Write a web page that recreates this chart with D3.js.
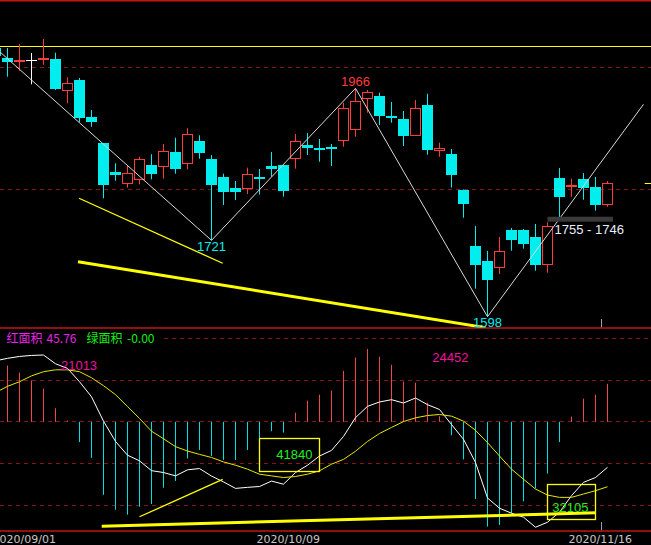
<!DOCTYPE html>
<html><head><meta charset="utf-8">
<script src="https://cdn.jsdelivr.net/npm/d3@7/dist/d3.min.js"></script>
<style>html,body{margin:0;padding:0;background:#000;overflow:hidden}</style>
</head><body><svg id="c" width="651" height="545"></svg>
<script>
// ---------- DATA (index -1 .. 50) ----------
const dates = ["2020/09/01","2020/09/02","2020/09/03","2020/09/04","2020/09/07","2020/09/08","2020/09/09","2020/09/10","2020/09/11","2020/09/14","2020/09/15","2020/09/16","2020/09/17","2020/09/18","2020/09/21","2020/09/22","2020/09/23","2020/09/24","2020/09/25","2020/09/28","2020/09/29","2020/09/30","2020/10/09","2020/10/12","2020/10/13","2020/10/14","2020/10/15","2020/10/16","2020/10/19","2020/10/20","2020/10/21","2020/10/22","2020/10/23","2020/10/26","2020/10/27","2020/10/28","2020/10/29","2020/10/30","2020/11/02","2020/11/03","2020/11/04","2020/11/05","2020/11/06","2020/11/09","2020/11/10","2020/11/11","2020/11/12","2020/11/13","2020/11/16","2020/11/17","2020/11/18","2020/11/19"];
const opens  = [2030.5,2014.8,2008.4,2010.8,2011.6,2012.7,1961.2,1979.4,1919.8,1877.4,1831.2,1812.3,1817.8,1842.4,1838.7,1863.4,1843.6,1881.1,1852.1,1823.1,1805.4,1803.3,1823.6,1840.8,1842.4,1852.6,1874.7,1869.8,1871.4,1880.6,1898.3,1948.3,1953.6,1920.9,1916.5,1889.6,1939.1,1865.5,1860.2,1802.2,1711.9,1687.8,1676.9,1737.7,1737.7,1726.4,1681.8,1821.5,1806.5,1819.9,1807.0,1778.5];
const highs  = [2031.0,2030.9,2037.4,2022.9,2045.4,2023.4,1983.7,1982.6,1931.0,1877.9,1845.2,1841.9,1855.8,1859.7,1876.3,1886.4,1901.6,1890.3,1858.5,1828.4,1816.6,1838.1,1836.0,1863.4,1843.0,1892.4,1894.0,1884.3,1876.3,1942.8,1966.0,1963.3,1958.9,1943.9,1929.4,1947.2,1957.3,1878.4,1868.2,1803.0,1744.2,1703.9,1726.4,1741.0,1739.3,1747.4,1750.1,1837.6,1820.4,1829.5,1823.1,1816.6];
const lows   = [2011.6,1984.7,1994.4,1972.4,2004.0,1963.3,1941.8,1911.7,1904.1,1788.8,1817.1,1805.9,1811.3,1819.4,1820.4,1828.4,1835.5,1852.6,1721.0,1778.0,1786.0,1795.7,1794.6,1823.6,1791.4,1836.5,1858.5,1847.7,1840.8,1871.9,1888.0,1926.7,1906.9,1910.6,1873.0,1889.0,1859.0,1855.8,1805.9,1757.5,1643.1,1598.0,1666.8,1704.4,1707.6,1672.1,1668.9,1756.6,1791.4,1786.5,1768.8,1775.2];
const closes = [2018.0,2008.4,2011.6,2010.8,2014.8,1965.4,1974.1,1918.6,1912.2,1810.2,1826.8,1829.1,1851.6,1828.4,1864.5,1836.5,1891.9,1862.2,1810.7,1799.4,1799.4,1827.9,1820.4,1836.0,1801.0,1881.1,1870.3,1867.1,1868.7,1933.8,1945.1,1959.6,1921.9,1918.6,1889.6,1933.8,1867.1,1869.3,1826.3,1780.1,1681.8,1657.2,1703.9,1721.6,1715.6,1681.8,1744.2,1791.4,1809.7,1805.9,1778.5,1812.9];
const macdHist = [30.0,27.0,23.6,19.8,15.9,6.5,0.6,-9.7,-17.3,-35.0,-42.1,-44.5,-40.7,-39.4,-31.6,-28.3,-17.6,-13.5,-16.4,-18.3,-18.3,-13.5,-8.4,-4.5,-5.2,4.4,10.1,13.0,14.9,24.4,30.8,34.9,31.1,27.3,19.3,18.7,9.2,2.7,-6.4,-18.0,-37.0,-50.2,-49.4,-43.7,-38.1,-31.9,-24.8,-9.7,2.5,11.1,13.0,18.2];
const difs = [29.2,30.4,31.3,31.8,32.0,27.8,25.6,19.2,12.0,0.3,-9.4,-16.0,-18.7,-23.4,-24.3,-25.9,-23.0,-22.4,-26.0,-28.8,-31.9,-31.4,-31.0,-28.4,-29.9,-24.3,-20.8,-16.4,-13.7,-7.0,2.0,7.4,9.5,10.6,9.0,11.4,8.2,5.9,-1.3,-8.4,-19.5,-36.5,-41.4,-43.8,-45.7,-50.5,-48.1,-43.3,-35.4,-29.0,-26.7,-21.8];
const deas = [14.0,17.0,19.2,22.0,24.0,24.9,24.9,24.0,21.1,17.3,13.0,7.3,1.6,-4.5,-8.1,-11.9,-14.0,-15.6,-17.1,-19.2,-20.8,-22.7,-25.1,-25.9,-26.7,-26.2,-25.1,-23.5,-20.3,-18.0,-14.1,-9.4,-5.6,-2.7,0.1,1.9,3.0,3.5,2.7,0.3,-4.1,-10.0,-16.4,-22.7,-27.5,-32.2,-35.1,-36.2,-36.2,-34.6,-33.0,-31.1];
const dateTicks = ["2020/09/01","2020/10/09","2020/11/16"];
const priceGrid = [2000, 1803];
const macdGrid = [40, 20, 0, -20, -40];
const hLine = 2034.1;
const zigzag = [[-1,2031],[17,1721],[29,1966],[40,1598],[53,1940.2]];
const peakLabels = [{i:29,v:1966,t:"1966",pos:"above",col:"red"},{i:17,v:1721,t:"1721",pos:"below",col:"cyan"},{i:40,v:1598,t:"1598",pos:"below",col:"cyan"}];
const upTrendThin = [[5.96,1788.8],[17.93,1684.1]];
const upTrendThick = [[5.875,1686.6],[39.85,1580.3]];
const gapBand = [1759.1, 1751.1];
const gapText = "1755 - 1746";
const lowTrendThin = [[11,-45.5],[17.93,-27.6]];
const lowTrendThick = [[7.85,-50.0],[49.04,-43.6]];
const boxes = [{i0:21,i1:26,v0:-8.1,v1:-23.9,t:"41840",ti:23.9,tv:-17.6},{i0:45,i1:49.04,v0:-30.2,v1:-46.8,t:"32105",ti:46.9,tv:-43.3}];
const macdLabels = [{i:5.96,v:24.7,t:"21013"},{i:36.9,v:28.6,t:"24452"}];

// ---------- SETUP ----------
const W=651,H=545;
const RED="#ff3b3b", CYAN="#00eeee", YEL="#ffff00", GRID="#8c1414", SEP="#c41414";
const svg=d3.select('#c');
svg.append('rect').attr('width',W).attr('height',H).attr('fill','#000');
const idx=d3.range(-1,51);
const x=d3.scaleLinear().domain([-1,50]).range([-4.5,607.5]);
const y=d3.scaleLinear().domain([1598,1966]).range([316.7,88.3]);
const y2=d3.scaleLinear().domain([-40,40]).range([505.3,338.3]);
const crisp=v=>Math.floor(v)+0.5;
const defs=svg.append('defs');
defs.append('clipPath').attr('id','ct').append('rect').attr('x',0).attr('y',1.5).attr('width',W).attr('height',326);
defs.append('clipPath').attr('id','cb').append('rect').attr('x',0).attr('y',329).attr('width',W).attr('height',201.5);

// separators
svg.append('rect').attr('x',0).attr('y',0).attr('width',W).attr('height',1.5).attr('fill',SEP);
svg.append('line').attr('x1',0).attr('x2',W).attr('y1',328).attr('y2',328).attr('stroke',SEP).attr('stroke-width',1.5);
svg.append('line').attr('x1',0).attr('x2',W).attr('y1',531).attr('y2',531).attr('stroke',SEP).attr('stroke-width',1.5);

// ---------- UPPER PANEL ----------
const gt=svg.append('g').attr('clip-path','url(#ct)');
gt.selectAll('.pg').data(priceGrid).join('line').attr('x1',0).attr('x2',W)
  .attr('y1',d=>crisp(y(d))).attr('y2',d=>crisp(y(d))).attr('stroke',GRID).attr('stroke-dasharray','4,4');
gt.append('line').attr('x1',0).attr('x2',W).attr('y1',crisp(y(hLine))).attr('y2',crisp(y(hLine))).attr('stroke',YEL);

const candles=idx.map((i,k)=>({i,o:opens[k],h:highs[k],l:lows[k],c:closes[k]}));
candles.forEach(d=>{
  const cx=crisp(x(d.i));
  const up=d.c>d.o, flat=d.c===d.o;
  const top=Math.round(y(Math.max(d.o,d.c))), bot=Math.round(y(Math.min(d.o,d.c)));
  if(flat){
    gt.append('line').attr('x1',cx).attr('x2',cx).attr('y1',y(d.h)).attr('y2',y(d.l)).attr('stroke','#fff');
    gt.append('line').attr('x1',cx-5.5).attr('x2',cx+5.5).attr('y1',top+0.5).attr('y2',top+0.5).attr('stroke','#fff');
  } else if(up){
    gt.append('line').attr('x1',cx).attr('x2',cx).attr('y1',y(d.h)).attr('y2',top).attr('stroke',RED);
    gt.append('line').attr('x1',cx).attr('x2',cx).attr('y1',bot).attr('y2',y(d.l)).attr('stroke',RED);
    gt.append('rect').attr('x',cx-5).attr('y',top+0.5).attr('width',10).attr('height',Math.max(1,bot-top-1))
      .attr('fill','none').attr('stroke',RED);
  } else {
    gt.append('line').attr('x1',cx).attr('x2',cx).attr('y1',y(d.h)).attr('y2',y(d.l)).attr('stroke',CYAN);
    gt.append('rect').attr('x',cx-5.5).attr('y',top).attr('width',11).attr('height',Math.max(1,bot-top)).attr('fill',CYAN);
  }
});

const lineP=d3.line().x(d=>x(d[0])).y(d=>y(d[1]));
gt.append('path').attr('d',lineP(zigzag)).attr('fill','none').attr('stroke','#d8d8d8').attr('stroke-width',1);
gt.append('path').attr('d',lineP(upTrendThin)).attr('fill','none').attr('stroke',YEL).attr('stroke-width',1.3);
gt.append('path').attr('d',lineP(upTrendThick)).attr('fill','none').attr('stroke',YEL).attr('stroke-width',3);
// last price marker at right
gt.append('line').attr('x1',x(53.1)).attr('x2',W).attr('y1',crisp(y(closes[closes.length-1]))).attr('y2',crisp(y(closes[closes.length-1]))).attr('stroke',YEL);
// gap band + label
gt.append('rect').attr('x',x(45)).attr('y',y(gapBand[0])).attr('width',x(50)+5.5-x(45)).attr('height',y(gapBand[1])-y(gapBand[0])).attr('fill','#3a3a3a');
gt.append('text').attr('x',x(45)+7).attr('y',y(gapBand[1])+12.5).text(gapText)
  .attr('fill','#e8eef8').attr('font-family','Liberation Sans, Arial, sans-serif').attr('font-size',13);
// peak labels
peakLabels.forEach(p=>{
  gt.append('text').attr('x',x(p.i)).attr('y',p.pos==='above'?y(p.v)-2:y(p.v)+10.5)
    .attr('text-anchor','middle').text(p.t).attr('fill',p.col==='red'?RED:CYAN)
    .attr('font-family','Liberation Sans, Arial, sans-serif').attr('font-size',13);
});
// cursor marker
svg.append('line').attr('x1',crisp(x(49.5))).attr('x2',crisp(x(49.5))).attr('y1',319).attr('y2',327.3).attr('stroke','#a0a0a0');

// ---------- LOWER PANEL ----------
const gb=svg.append('g').attr('clip-path','url(#cb)');
gb.selectAll('.mg').data(macdGrid).join('line').attr('x1',(d,k)=>k===0?164:0).attr('x2',W)
  .attr('y1',d=>crisp(y2(d))).attr('y2',d=>crisp(y2(d))).attr('stroke',GRID).attr('stroke-dasharray','4,4');
gb.selectAll('.hb').data(idx.map((i,k)=>({i,v:macdHist[k]}))).join('line')
  .attr('x1',d=>crisp(x(d.i))).attr('x2',d=>crisp(x(d.i)))
  .attr('y1',y2(0)).attr('y2',d=>y2(d.v)).attr('stroke',d=>d.v>0?'#f04848':'#00e0e0');
const lineM=d3.line().x(d=>x(d[0])).y(d=>y2(d[1]));
gb.append('path').attr('d',lineM(idx.map((i,k)=>[i,difs[k]]))).attr('fill','none').attr('stroke','#ffffff').attr('stroke-width',1);
gb.append('path').attr('d',lineM(idx.map((i,k)=>[i,deas[k]]))).attr('fill','none').attr('stroke','#e6e600').attr('stroke-width',1);
gb.append('path').attr('d',lineM(lowTrendThin)).attr('fill','none').attr('stroke',YEL).attr('stroke-width',1.3);
gb.append('path').attr('d',lineM(lowTrendThick)).attr('fill','none').attr('stroke',YEL).attr('stroke-width',3);
boxes.forEach(b=>{
  gb.append('rect').attr('x',crisp(x(b.i0))).attr('y',crisp(y2(b.v0))).attr('width',Math.round(x(b.i1)-x(b.i0)))
    .attr('height',Math.round(y2(b.v1)-y2(b.v0))).attr('fill','none').attr('stroke',YEL).attr('stroke-width',1.3);
  gb.append('text').attr('x',x(b.ti)).attr('y',y2(b.tv)).attr('text-anchor','middle').text(b.t)
    .attr('fill','#22ee22').attr('font-family','Liberation Sans, Arial, sans-serif').attr('font-size',13);
});
macdLabels.forEach(m=>{
  gb.append('text').attr('x',x(m.i)).attr('y',y2(m.v)).attr('text-anchor','middle').text(m.t)
    .attr('fill','#f0109a').attr('font-family','Liberation Sans, Arial, sans-serif').attr('font-size',13);
});
svg.append('line').attr('x1',crisp(x(49.5))).attr('x2',crisp(x(49.5))).attr('y1',522).attr('y2',530.3).attr('stroke','#a0a0a0');

// legend
const lg=[{x:6.5,t:"红面积",c:"#ee22ee"},{x:46.5,t:"45.76",c:"#ee22ee"},{x:86.5,t:"绿面积",c:"#11ee11"},{x:127,t:"-0.00",c:"#11ee11"}];
lg.forEach(l=>svg.append('text').attr('x',l.x).attr('y',342.5).text(l.t).attr('fill',l.c)
  .attr('font-family','Noto Sans CJK SC, sans-serif').attr('font-size',12));

// dates
const dIndex=d3.scaleOrdinal().domain(dates).range(idx);
dateTicks.forEach(dt=>svg.append('text').attr('x',x(dIndex(dt))-3).attr('y',542.5).text(dt)
  .attr('fill','#c8c8c8').attr('font-family','DejaVu Sans, sans-serif').attr('font-size',11));
</script></body></html>
